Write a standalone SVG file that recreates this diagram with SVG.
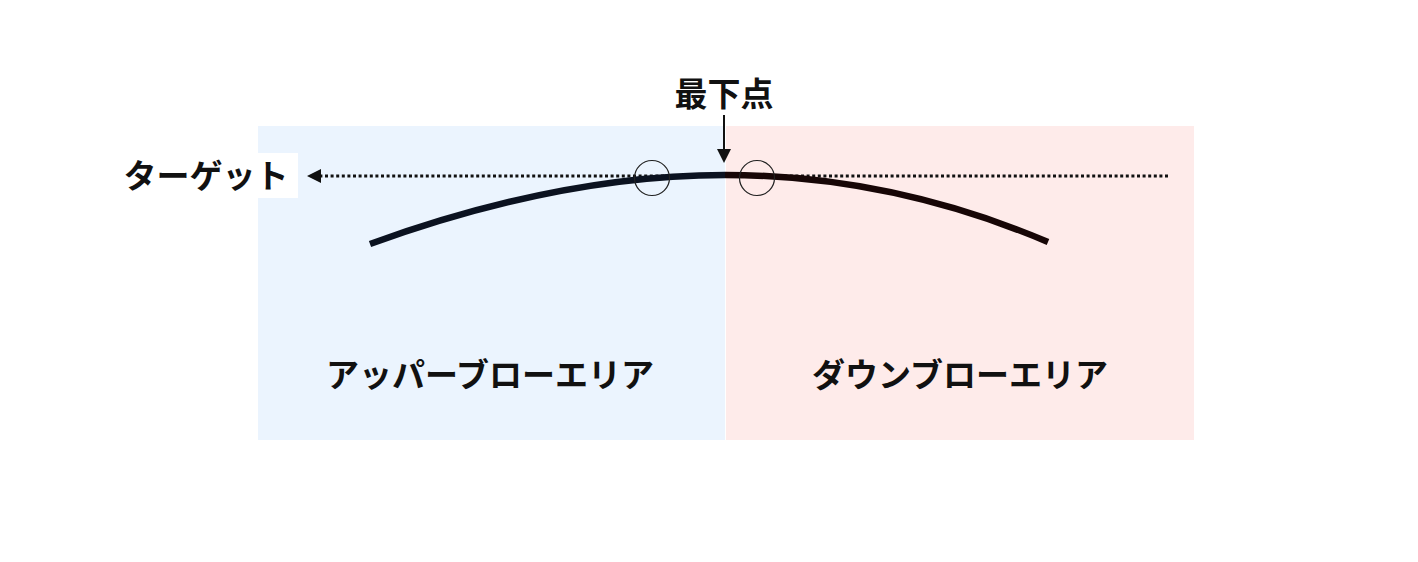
<svg xmlns="http://www.w3.org/2000/svg" width="1418" height="562" viewBox="0 0 1418 562">
<defs>
<style>
.lbl{font-family:"Noto Sans CJK JP","Noto Sans CJK SC",sans-serif;font-weight:700;font-size:33px;fill:#111;}
.dot{stroke:#111;stroke-width:2.8;stroke-dasharray:3 2.6;fill:none;}
.curve{fill:none;stroke-width:6.5;stroke-linecap:butt;}
.ring{fill:none;stroke:#222;stroke-width:1.2;}
</style>
</defs>
<rect width="1418" height="562" fill="#fff"/>
<g id="upper-area">
<rect x="258" y="126" width="467" height="314" fill="#EBF4FE"/>
<text class="lbl" x="490" y="387" text-anchor="middle">アッパーブローエリア</text>
</g>
<g id="down-area">
<rect x="726" y="126" width="468" height="314" fill="#FEEBEA"/>
<text class="lbl" x="960" y="387" text-anchor="middle">ダウンブローエリア</text>
</g>
<g id="target">
<rect x="118" y="153" width="180" height="45" fill="#fff"/>
<text class="lbl" x="206" y="188" text-anchor="middle">ターゲット</text>
</g>
<g id="lowest-point">
<text class="lbl" x="724" y="106" text-anchor="middle">最下点</text>
</g>
<g id="connectors">
<line class="dot" x1="1168" y1="176" x2="321" y2="176"/>
<path d="M321,169 L307,176 L321,183 Z" fill="#111"/>
<line x1="724" y1="115" x2="724" y2="150" stroke="#111" stroke-width="2"/>
<path d="M717,149 L724,163 L731,149 Z" fill="#111"/>
</g>
<g id="swing-curve">
<path class="curve" stroke="#0b1220" d="M370,244 Q560,175 725,175"/>
<path class="curve" stroke="#170606" d="M725,175 Q890,175 1048,242"/>
<circle class="ring" cx="652" cy="178" r="17.5"/>
<circle class="ring" cx="757" cy="178" r="17.5"/>
</g>
</svg>
